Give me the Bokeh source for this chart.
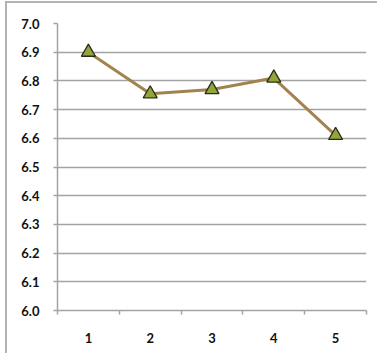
from bokeh.plotting import figure
from bokeh.models import FixedTicker, Range1d, PrintfTickFormatter
from bokeh.embed import file_html
from bokeh.resources import INLINE

# Series values for positions 1..5
categories = [1, 2, 3, 4, 5]
values = [6.90, 6.755, 6.77, 6.81, 6.61]
y_ticks = [6.0, 6.1, 6.2, 6.3, 6.4, 6.5, 6.6, 6.7, 6.8, 6.9, 7.0]

GRID = "#a3a3a3"

p = figure(
    width=372, height=352,
    output_backend="svg", toolbar_location=None,
    x_range=Range1d(0.5, 5.5), y_range=Range1d(6.0, 7.0),
    min_border_left=50, min_border_top=20, min_border_right=13, min_border_bottom=45,
)
p.styles = {"border-top": "2px solid #b4b4b4", "border-left": "2px solid #b4b4b4",
            "margin-left": "5px", "margin-top": "1px"}
p.outline_line_color = None
p.background_fill_color = "white"

# line with triangle markers
p.line(categories, values, line_color="#a2834f", line_width=3)
p.scatter(categories, values, marker="triangle", size=14,
          fill_color="#8ea63a", line_color="#2f2a18", line_width=1.3)

# y axis: gridlines every 0.1 with short outward ticks
p.yaxis.ticker = FixedTicker(ticks=y_ticks)
p.yaxis.formatter = PrintfTickFormatter(format="%.1f")
p.yaxis.axis_line_color = GRID
p.yaxis.axis_line_width = 1.5
p.yaxis.major_tick_line_color = GRID
p.yaxis.major_tick_line_width = 1.5
p.yaxis.major_tick_out = 4
p.yaxis.major_tick_in = 0
p.yaxis.minor_tick_line_color = None
p.yaxis.major_label_standoff = 14
p.ygrid.ticker = FixedTicker(ticks=y_ticks)
p.ygrid.grid_line_color = GRID
p.ygrid.grid_line_width = 1.5

# x axis: labels at categories, tick marks between categories
bounds = [c - 0.5 for c in categories] + [categories[-1] + 0.5]
p.xaxis.ticker = FixedTicker(ticks=categories, minor_ticks=bounds)
p.xaxis.axis_line_color = GRID
p.xaxis.axis_line_width = 1.5
p.xaxis.major_tick_line_color = None
p.xaxis.major_tick_out = 0
p.xaxis.major_tick_in = 0
p.xaxis.minor_tick_line_color = GRID
p.xaxis.minor_tick_line_width = 1.5
p.xaxis.minor_tick_out = 4
p.xaxis.minor_tick_in = 0
p.xaxis.major_label_standoff = 18
p.xgrid.grid_line_color = None

for ax in (p.xaxis, p.yaxis):
    ax.major_label_text_font = "Lato"
    ax.major_label_text_font_style = "bold"
    ax.major_label_text_font_size = "13px"
    ax.major_label_text_color = "#111111"

open("out.html", "w").write(file_html(p, INLINE))
